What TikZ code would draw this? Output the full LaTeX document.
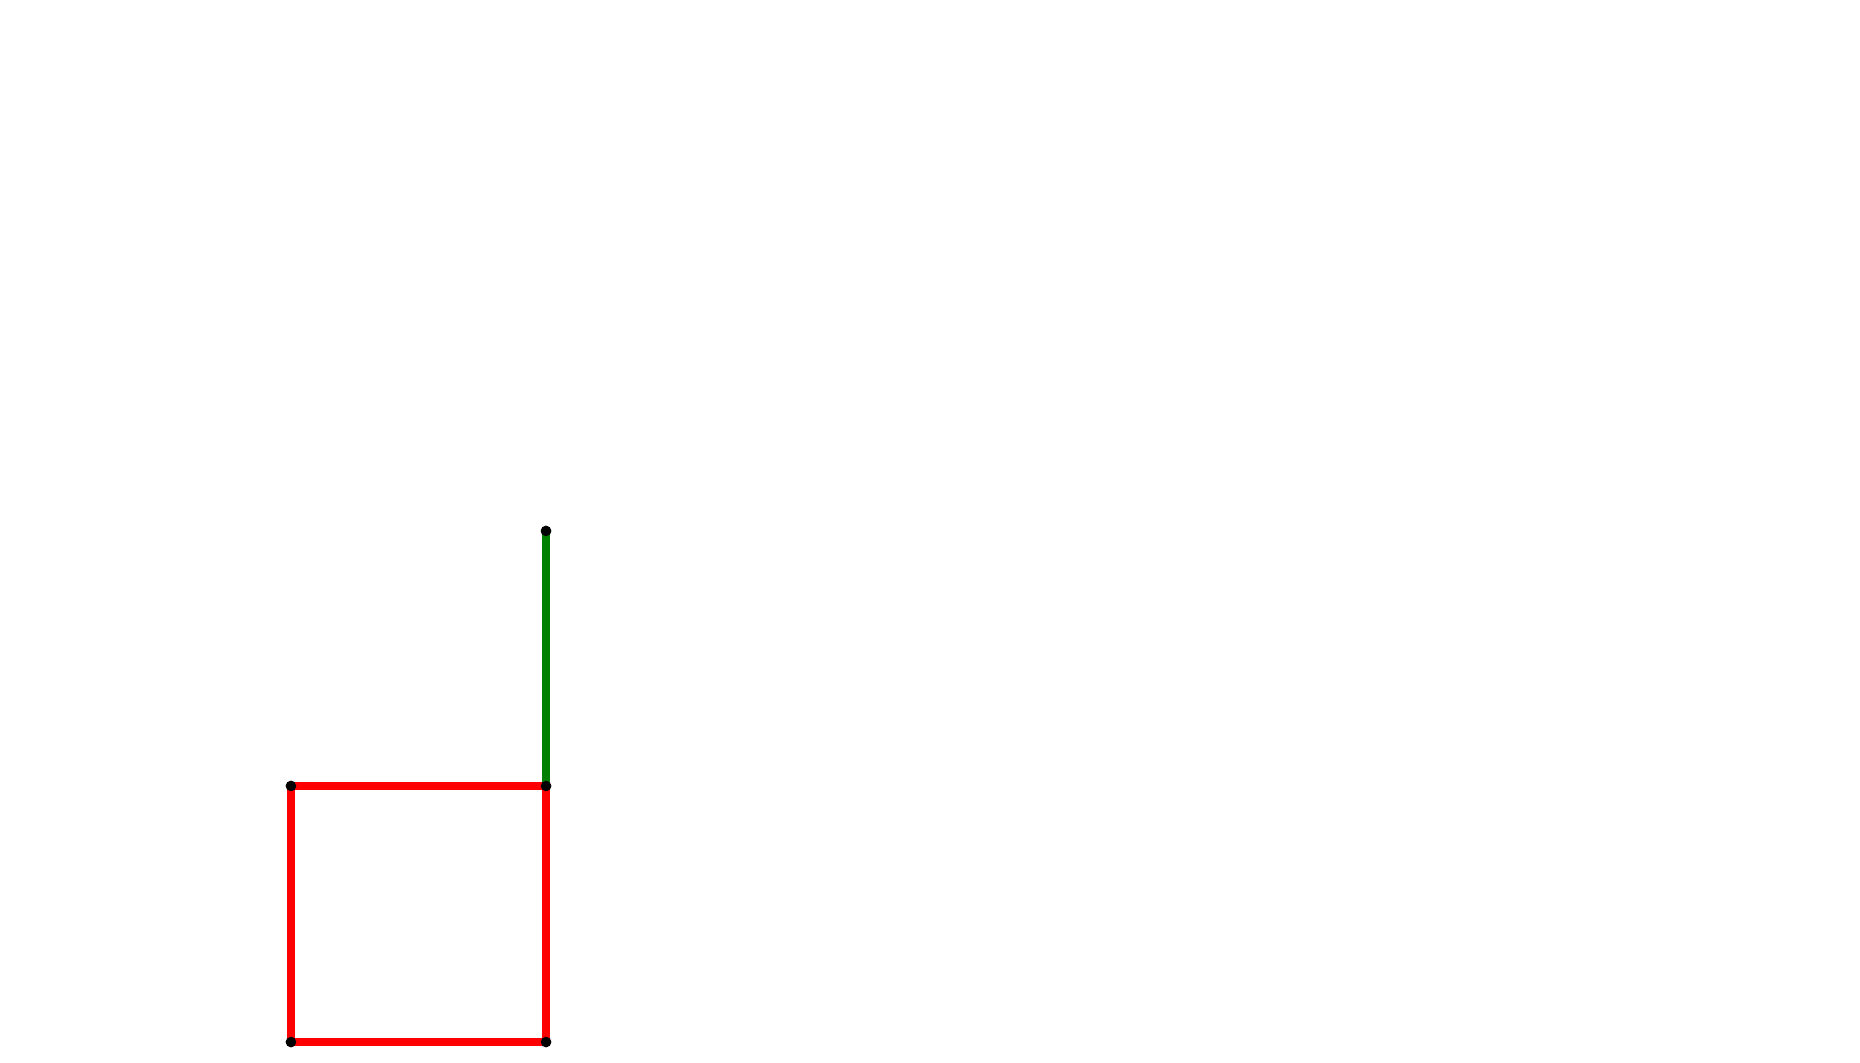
\documentclass[tikz,border=0pt]{standalone}
\usepackage{amsmath}
\usepackage{tikz}
\definecolor{darkgreen}{RGB}{0,128,0}

\begin{document}
\begin{tikzpicture}[main/.style = {draw, circle, fill=black, inner sep=0pt, minimum size=0.9mm},
        edgered/.style = {draw=red, line width=2.3pt},
        edgegreen/.style = {draw=darkgreen, line width=2.3pt}]
        \useasboundingbox (0,0) rectangle (18.6,10.62);
        \node[main] (1) at (2.91,0.20) {};
        \node[main] (2) at (5.46,0.20) {};
        \node[main] (3) at (5.46,2.76) {};
        \node[main] (4) at (2.91,2.76) {};
        \node[main] (5) at (5.46,5.31) {};
        \draw[edgered] (1.center) -- (2.center);
        \draw[edgered] (2.center) -- (3.center);
        \draw[edgered] (3.center) -- (4.center);
        \draw[edgered] (4.center) -- (1.center);
        \draw[edgegreen] (3.center) -- (5.center);
        \foreach \n in {1,...,5}
            \node[main] at (\n) {};
        \end{tikzpicture}
\end{document}
